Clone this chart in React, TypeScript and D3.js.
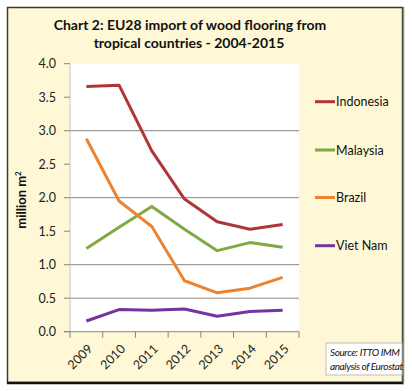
import React from "react";
import * as d3 from "d3";

const years = ["2009", "2010", "2011", "2012", "2013", "2014", "2015"];
const indonesia = [3.66, 3.68, 2.7, 1.98, 1.64, 1.53, 1.6];
const malaysia = [1.24, 1.56, 1.87, 1.53, 1.21, 1.33, 1.26];
const brazil = [2.88, 1.95, 1.57, 0.76, 0.58, 0.65, 0.81];
const vietnam = [0.16, 0.33, 0.32, 0.34, 0.23, 0.3, 0.32];
const seriesNames = ["Indonesia", "Malaysia", "Brazil", "Viet Nam"];
const seriesColors = ["#AE3638", "#80A843", "#EC8330", "#7334A0"];
const yTicks = [0, 0.5, 1, 1.5, 2, 2.5, 3, 3.5, 4];
const gridValues = [0.5, 1, 2, 3];

export default function App() {
  const W = 412, H = 391;
  const left = 70, right = 299, top = 63.7, bottom = 331.7;
  const x = d3.scaleBand<string>().domain(years).range([left, right]);
  const y = d3.scaleLinear().domain([0, 4]).range([bottom, top]);
  const line = d3
    .line<number>()
    .x((_, i) => (x(years[i]) as number) + x.bandwidth() / 2)
    .y((d) => y(d));
  const all = [indonesia, malaysia, brazil, vietnam];
  const legendY = [101.7, 150, 197.5, 245.7];
  const font = "Lato, 'Open Sans', sans-serif";
  const boundaries = years.map((yr) => x(yr) as number).concat([right]);

  return (
    <div style={{ position: "fixed", left: 0, top: 0 }}>
      <svg width={W} height={H} style={{ display: "block" }} fontFamily={font}>
        <rect x={0} y={0} width={W} height={H} fill="#ffffff" />
        <rect x={7.5} y={7.5} width={395} height={375} fill="#FEF8D6" stroke="#3a3a3a" strokeWidth={1.5} />
        <line x1={7} x2={404} y1={383} y2={383} stroke="#111" strokeWidth={2.5} />
        <line x1={403.5} x2={403.5} y1={7} y2={384} stroke="#8a8a80" strokeWidth={1.5} />
        <text x={190} y={30} textAnchor="middle" fontSize={14} fontWeight="bold" fill="#111">
          Chart 2: EU28 import of wood flooring from
        </text>
        <text x={189} y={48} textAnchor="middle" fontSize={14} fontWeight="bold" fill="#111">
          tropical countries - 2004-2015
        </text>
        <rect x={left} y={top} width={right - left} height={bottom - top} fill="#ffffff" />
        {gridValues.map((v) => (
          <line key={v} x1={left} x2={right} y1={y(v)} y2={y(v)} stroke="#868686" strokeWidth={1} />
        ))}
        <line x1={left} x2={left} y1={top} y2={bottom} stroke="#c8c8bc" strokeWidth={1} />
        {yTicks.map((v) => (
          <g key={v}>
            <line x1={left - 6} x2={left} y1={y(v)} y2={y(v)} stroke="#868686" />
            <text x={56} y={y(v) + 4.5} textAnchor="end" fontSize={12.5} fill="#222">
              {v.toFixed(1)}
            </text>
          </g>
        ))}
        <line x1={left - 6} x2={right} y1={bottom} y2={bottom} stroke="#868686" strokeWidth={1} />
        {boundaries.map((b, i) => (
          <line key={i} x1={b} x2={b} y1={bottom} y2={bottom + 6} stroke="#868686" />
        ))}
        {years.map((yr) => {
          const cx = (x(yr) as number) + x.bandwidth() / 2;
          return (
            <text
              key={yr}
              transform={`translate(${cx + 7},${bottom + 18}) rotate(-45)`}
              textAnchor="end"
              fontSize={12.5}
              fill="#222"
            >
              {yr}
            </text>
          );
        })}
        <text transform={`translate(26,200) rotate(-90)`} textAnchor="middle" fontSize={13} fontWeight="bold" fill="#111">
          million m<tspan fontSize={8} dy={-5}>2</tspan>
        </text>
        {all.map((s, i) => (
          <path key={i} d={line(s) || ""} fill="none" stroke={seriesColors[i]} strokeWidth={3} strokeLinejoin="round" />
        ))}
        {seriesNames.map((n, i) => (
          <g key={n}>
            <line x1={315} x2={335} y1={legendY[i]} y2={legendY[i]} stroke={seriesColors[i]} strokeWidth={3} />
            <text x={336} y={legendY[i] + 4.5} fontSize={12.5} fill="#111">
              {n}
            </text>
          </g>
        ))}
        <rect x={326} y={343} width={76} height={32} fill="#ffffff" stroke="#bdbdbd" strokeWidth={1} />
        <text x={330} y={356} fontSize={10} fontStyle="italic" fill="#111" letterSpacing={-0.4}>
          Source: ITTO IMM
        </text>
        <text x={330} y={370} fontSize={10} fontStyle="italic" fill="#111" letterSpacing={-0.4}>
          analysis of Eurostat
        </text>
      </svg>
    </div>
  );
}
